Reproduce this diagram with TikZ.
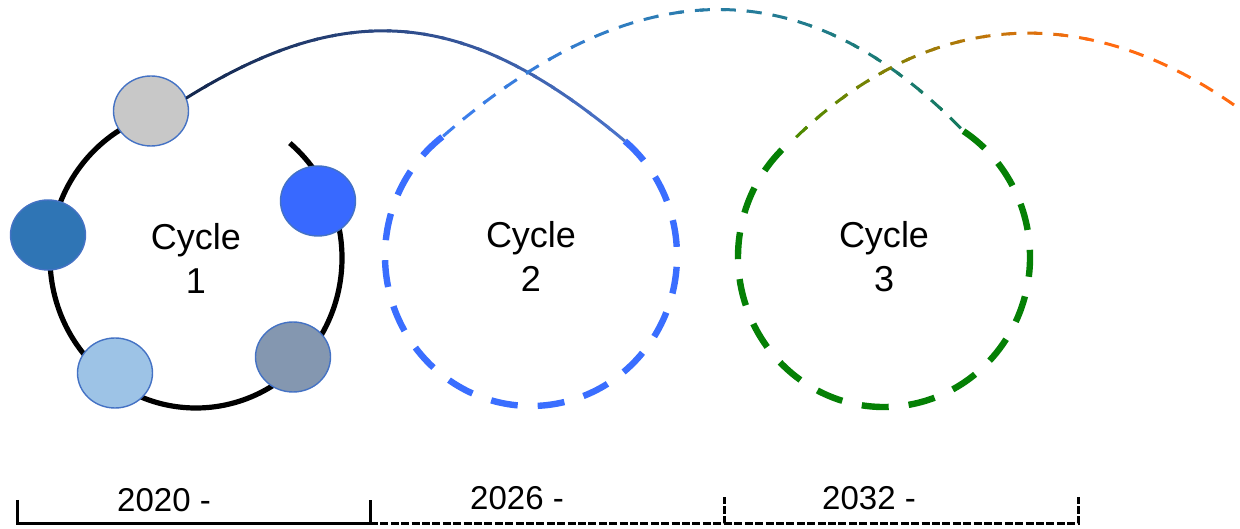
\documentclass[tikz,border=0pt]{standalone}
\usepackage{fontspec}
\setmainfont{Liberation Sans}
\usetikzlibrary{shapes.geometric}

\definecolor{memgray}{HTML}{C8C8C8}
\definecolor{memdark}{HTML}{2F75B5}
\definecolor{membright}{HTML}{3869FF}
\definecolor{memlight}{HTML}{9DC3E6}
\definecolor{memslate}{HTML}{8497B0}
\definecolor{edgeblue}{HTML}{4472C4}
\definecolor{ringblue}{HTML}{3A6EFF}
\definecolor{ringgreen}{HTML}{058005}
\definecolor{navy}{HTML}{14284F}
\definecolor{linkblue}{HTML}{4A72C8}
\definecolor{startblue}{HTML}{3D7EF0}
\definecolor{teal}{HTML}{157A60}
\definecolor{olive}{HTML}{4E8A00}
\definecolor{orange}{HTML}{FF6A10}

% draws a path in vertical strips, colour going from #2 to #3 between x=#4 and x=#5
\newcommand{\fadedraw}[6]{%
  \foreach \i in {0,...,23}{%
    \pgfmathsetmacro{\xa}{#4+(#5-#4)*\i/24-2}%
    \pgfmathsetmacro{\xb}{#4+(#5-#4)*(\i+1)/24+2}%
    \pgfmathtruncatemacro{\mix}{100*\i/23}%
    \begin{scope}
      \clip (\xa,0) rectangle (\xb,529);
      \draw[#1, draw=#3!\mix!#2] #6;
    \end{scope}
  }%
  \begin{scope}
    \clip (#5,0) rectangle (1240,529);
    \draw[#1, draw=#3] #6;
  \end{scope}
}

\tikzset{
  member/.style={ellipse, draw=edgeblue, line width=0.7pt, minimum width=37.5pt, minimum height=35pt, inner sep=0pt, outer sep=0pt},
  cyclelabel/.style={align=center, font=\fontsize{18}{22}\selectfont},
  yearlabel/.style={font=\fontsize{16.5}{20}\selectfont},
  bigdash/.style={line width=3.2pt, dash pattern=on 13.5pt off 10pt},
  smalldash/.style={line width=1.5pt, dash pattern=on 7.5pt off 5.5pt},
  timedash/.style={line width=1.5pt, dash pattern=on 4pt off 1.2pt}
}

\begin{document}
\begin{tikzpicture}[x=0.5pt, y=0.5pt]
  \useasboundingbox (0,0) rectangle (1240,529);

  % cycle labels, also the ring centres
  \node[cyclelabel] (c1) at (196,271) {Cycle\\1};
  \node[cyclelabel] (c2) at (531,273) {Cycle\\2};
  \node[cyclelabel] (c3) at (884,272) {Cycle\\3};

  \path (c1) ++(50:146 and 150) coordinate (c1top);
  \path (c2) ++(50:146 and 150) coordinate (c2top);
  \path (c2) ++(127:146 and 150) coordinate (c2open);
  \path (c3) ++(57:146 and 150) coordinate (c3top);
  \path (c3) ++(127:146 and 150) coordinate (c3open);
  \coordinate (next) at (1234,424);

  % rings
  \draw[line width=2.6pt] (c1top) arc[start angle=50, end angle=-253, x radius=146, y radius=150];
  \draw[bigdash, ringblue] (c2top) arc[start angle=50, end angle=-233, x radius=146, y radius=150];
  \draw[bigdash, ringgreen] (c3top) arc[start angle=57, end angle=-233, x radius=146, y radius=150];

  % members of cycle 1
  \node[member, fill=memgray] (mgray) at (151,418) {};
  \node[member, fill=memdark] (mdark) at (48,294) {};
  \node[member, fill=membright] (mbright) at (318,328) {};
  \node[member, fill=memlight] (mlight) at (115,156) {};
  \node[member, fill=memslate] (mslate) at (293,172) {};

  % links between the cycles
  \fadedraw{line width=1.5pt}{navy}{linkblue}{188}{626}{(mgray.20) to[out=32, in=140, looseness=1.15] (c2top)}
  \fadedraw{smalldash}{startblue}{teal}{440}{964}{(c2open) to[out=41, in=134, looseness=1.18] (c3top)}
  \fadedraw{smalldash}{olive}{orange}{793}{1100}{(c3open) to[out=44, in=145, looseness=1.07] (next)}

  % time line
  \node[yearlabel] (y1) at (164,29) {2020 -};
  \node[yearlabel] (y2) at (517,31) {2026 -};
  \node[yearlabel] (y3) at (869,31) {2032 -};
  \draw[line width=1.5pt] (17,29) -- (17,5) -- (370,5) -- (370,29);
  \draw[timedash] (370,5) -- (724,5) -- (724,32);
  \draw[timedash] (724,5) -- (1078,5) -- (1078,32);
\end{tikzpicture}
\end{document}
